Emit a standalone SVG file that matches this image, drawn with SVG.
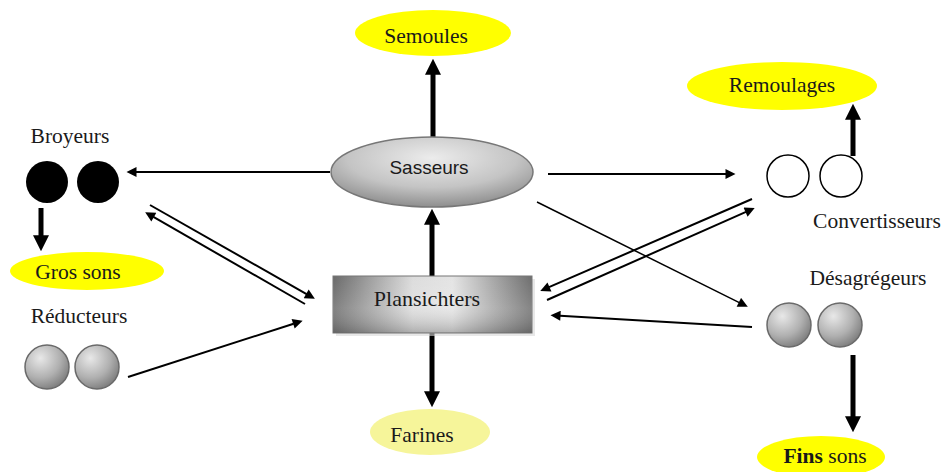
<svg xmlns="http://www.w3.org/2000/svg" width="944" height="472" viewBox="0 0 944 472">
<defs>
  <style>
    .lbl{font-family:"Liberation Serif","Times New Roman",serif;font-size:21.5px;fill:#1a1a1a;text-anchor:middle}
    .sans{font-family:"Liberation Sans",Arial,sans-serif;font-size:19px;fill:#1a1a1a;text-anchor:middle}
    .yel{fill:#ffff00}
    .pale{fill:#f6f59a}
    .thick{stroke:#000;stroke-width:5;fill:none;marker-end:url(#bigHead)}
    .thin{stroke:#000;stroke-width:2;fill:none;marker-end:url(#smallHead)}
    .grayc{fill:url(#gBall);stroke:#6a6a6a;stroke-width:1.5}
  </style>
  <marker id="bigHead" markerUnits="userSpaceOnUse" viewBox="0 0 10 10" markerWidth="16" markerHeight="16" refX="0.5" refY="5" orient="auto">
    <path d="M0,0 L10,5 L0,10 z" fill="#000"/>
  </marker>
  <marker id="smallHead" markerUnits="userSpaceOnUse" viewBox="0 0 10 10" markerWidth="12" markerHeight="10" refX="0.5" refY="5" orient="auto">
    <path d="M0,0 L10,5 L0,10 z" fill="#000"/>
  </marker>
  <radialGradient id="gSass" cx="0.5" cy="0.3" r="0.7">
    <stop offset="0" stop-color="#ececec"/>
    <stop offset="0.6" stop-color="#c4c4c4"/>
    <stop offset="1" stop-color="#8e8e8e"/>
  </radialGradient>
  <linearGradient id="gPlan" x1="0" y1="0" x2="1" y2="0">
    <stop offset="0" stop-color="#6a6a6a"/>
    <stop offset="0.4" stop-color="#dcdcdc"/>
    <stop offset="0.6" stop-color="#e4e4e4"/>
    <stop offset="1" stop-color="#6e6e6e"/>
  </linearGradient>
  <linearGradient id="gPlanV" x1="0" y1="0" x2="0" y2="1">
    <stop offset="0" stop-color="#fff" stop-opacity="0"/>
    <stop offset="0.55" stop-color="#fff" stop-opacity="0.15"/>
    <stop offset="1" stop-color="#555" stop-opacity="0.35"/>
  </linearGradient>
  <radialGradient id="gBall" cx="0.35" cy="0.3" r="0.75">
    <stop offset="0" stop-color="#e8e8e8"/>
    <stop offset="0.6" stop-color="#b0b0b0"/>
    <stop offset="1" stop-color="#7c7c7c"/>
  </radialGradient>
</defs>
<rect width="944" height="472" fill="#fff"/>

<g id="connectors">
  <line class="thick" x1="433" y1="138" x2="433" y2="74"/>
  <line class="thick" x1="432" y1="276" x2="432" y2="224"/>
  <line class="thick" x1="432" y1="333" x2="432" y2="392"/>
  <line class="thick" x1="41" y1="208" x2="41" y2="236"/>
  <line class="thick" x1="853" y1="156" x2="853" y2="119"/>
  <line class="thick" x1="853" y1="355" x2="853" y2="417"/>
  <line class="thin" x1="330" y1="172" x2="136" y2="172"/>
  <line class="thin" x1="548" y1="174" x2="726" y2="174"/>
  <line class="thin" x1="128" y1="377" x2="293.6" y2="323.7"/>
  <line class="thin" x1="150" y1="205" x2="306.6" y2="294.1"/>
  <line class="thin" x1="305" y1="304" x2="153.4" y2="216.9"/>
  <line class="thin" x1="752" y1="199" x2="549" y2="287.2"/>
  <line class="thin" x1="547" y1="300" x2="746" y2="211.9"/>
  <line class="thin" style="stroke-width:1.5" x1="537" y1="202" x2="739.3" y2="302.6"/>
  <line class="thin" x1="752" y1="327" x2="560" y2="315.7"/>
</g>

<g id="semoules">
  <ellipse class="yel" cx="433" cy="33" rx="78" ry="23"/>
  <text class="lbl" x="426" y="43">Semoules</text>
</g>
<g id="sasseurs">
  <ellipse cx="432" cy="172" rx="101" ry="35" fill="url(#gSass)" stroke="#777" stroke-width="1.5"/>
  <text class="sans" x="429" y="174">Sasseurs</text>
</g>
<g id="plansichters">
  <rect x="336" y="279" width="199" height="57" fill="#d8d8d8" opacity="0.6"/>
  <rect x="333" y="276" width="199" height="57" fill="url(#gPlan)" stroke="#777" stroke-width="1"/>
  <rect x="333" y="276" width="199" height="57" fill="url(#gPlanV)"/>
  <text class="lbl" x="427" y="306" style="font-size:22px">Plansichters</text>
</g>
<g id="farines">
  <ellipse class="pale" cx="430" cy="432" rx="60" ry="23"/>
  <text class="lbl" x="422" y="442">Farines</text>
</g>
<g id="broyeurs">
  <text class="lbl" x="70" y="143">Broyeurs</text>
  <circle cx="47" cy="182" r="21" fill="#000"/>
  <circle cx="98" cy="182" r="21" fill="#000"/>
</g>
<g id="gros-sons">
  <ellipse class="yel" cx="87" cy="271" rx="77" ry="19"/>
  <text class="lbl" x="78" y="279">Gros sons</text>
</g>
<g id="reducteurs">
  <text class="lbl" x="79" y="323">Réducteurs</text>
  <circle class="grayc" cx="47" cy="367" r="22"/>
  <circle class="grayc" cx="97" cy="367" r="22"/>
</g>
<g id="remoulages">
  <ellipse class="yel" cx="782" cy="86" rx="95" ry="24"/>
  <text class="lbl" x="782" y="92">Remoulages</text>
</g>
<g id="convertisseurs">
  <circle cx="788" cy="176" r="21" fill="#fff" stroke="#000" stroke-width="1.5"/>
  <circle cx="841" cy="176" r="21" fill="#fff" stroke="#000" stroke-width="1.5"/>
  <text class="lbl" x="877" y="228">Convertisseurs</text>
</g>
<g id="desagregeurs">
  <text class="lbl" x="868" y="285">Désagrégeurs</text>
  <circle class="grayc" cx="789" cy="325" r="22"/>
  <circle class="grayc" cx="840" cy="325" r="22"/>
</g>
<g id="fins-sons">
  <ellipse class="yel" cx="821" cy="457" rx="64" ry="21"/>
  <text class="lbl" x="825" y="463"><tspan font-weight="bold">Fins</tspan> sons</text>
</g>
</svg>
